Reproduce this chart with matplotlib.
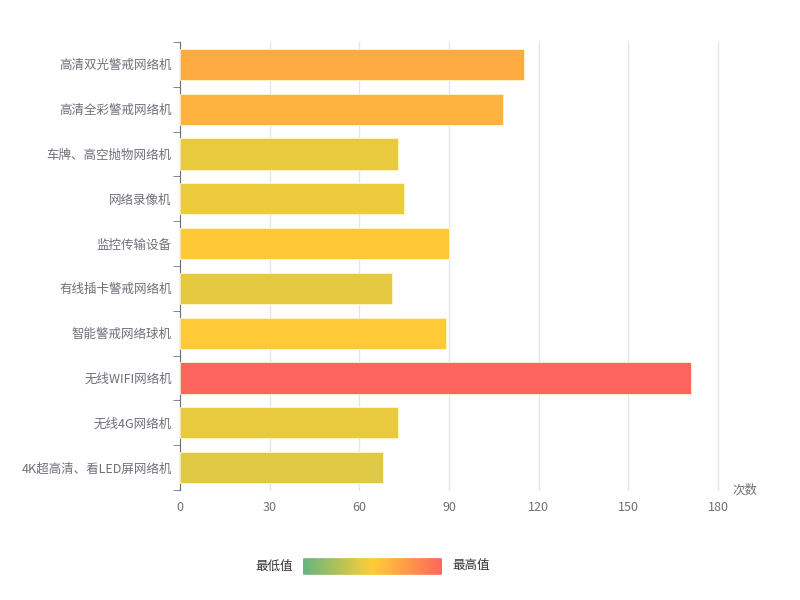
import numpy as np
import matplotlib.pyplot as plt
from matplotlib.colors import LinearSegmentedColormap, Normalize
from matplotlib.patches import FancyBboxPatch

plt.rcParams['font.family'] = ['Noto Sans CJK SC', 'DejaVu Sans']

# 数据
categories = ["4K超高清、看LED屏网络机", "无线4G网络机", "无线WIFI网络机", "智能警戒网络球机",
              "有线插卡警戒网络机", "监控传输设备", "网络录像机", "车牌、高空抛物网络机",
              "高清全彩警戒网络机", "高清双光警戒网络机"]
values = [68, 73, 171, 89, 71, 90, 75, 73, 108, 115]
x_ticks = [0, 30, 60, 90, 120, 150, 180]

# visualMap 颜色
cmap = LinearSegmentedColormap.from_list("vm", ["#65B581", "#FFCE34", "#FD665F"])
norm = Normalize(vmin=0, vmax=max(values))

fig = plt.figure(figsize=(8, 6), dpi=100)
ax = fig.add_axes([180 / 800, 1 - 490 / 600, 538 / 800, 448 / 600])

y = np.arange(len(categories))
ax.barh(y, values, height=0.7, color=cmap(norm(values)), edgecolor="#fff7c8", linewidth=0.6, zorder=3)

ax.set_xlim(0, 180)
ax.set_ylim(-0.5, len(categories) - 0.5)
ax.set_xticks(x_ticks)
ax.set_xticklabels([str(t) for t in x_ticks])
ax.set_yticks(y)
ax.set_yticklabels(categories)
ax.set_yticks(np.arange(-0.5, len(categories), 1), minor=True)

ax.grid(axis="x", color="#e0e6f1", linewidth=1, zorder=0)
for line in ax.get_xgridlines():
    line.set_clip_on(False)
for s in ["top", "right", "bottom"]:
    ax.spines[s].set_visible(False)
ax.spines["left"].set_color("#6e7079")
ax.tick_params(axis="y", which="major", length=0, pad=6, labelsize=9, labelcolor="#6e7079")
ax.tick_params(axis="y", which="minor", length=5, color="#6e7079")
ax.tick_params(axis="x", length=0, pad=8, labelsize=9, labelcolor="#6e7079")

fig.text(745 / 800, 1 - 490 / 600, "次数", ha="center", va="center", fontsize=9, color="#6e7079")

# 图例渐变条
lx0, lx1, ly0, ly1 = 303, 442, 557, 576
lax = fig.add_axes([lx0 / 800, 1 - ly1 / 600, (lx1 - lx0) / 800, (ly1 - ly0) / 600])
grad = np.linspace(0, 1, 256).reshape(1, -1)
im = lax.imshow(grad, cmap=cmap, aspect="auto", extent=[0, 1, 0, 1])
clip = FancyBboxPatch((0.02, 0.08), 0.96, 0.84, boxstyle="round,pad=0.02,rounding_size=0.03",
                      transform=lax.transAxes, facecolor="none", edgecolor="none")
lax.add_patch(clip)
im.set_clip_path(clip)
lax.set_xlim(0, 1)
lax.set_ylim(0, 1)
lax.axis("off")

fig.text(293 / 800, 1 - 566 / 600, "最低值", ha="right", va="center", fontsize=9, color="#333333")
fig.text(452 / 800, 1 - 566 / 600, "最高值", ha="left", va="center", fontsize=9, color="#333333")

fig.savefig("out.png", dpi=100, facecolor="white")
